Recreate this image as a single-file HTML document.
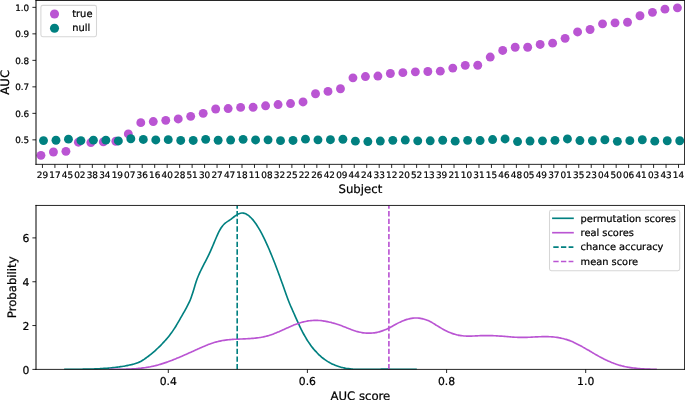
<!DOCTYPE html>
<html lang="en"><head><meta charset="utf-8"><title>AUC per subject and permutation distribution</title>
<style>html,body{margin:0;padding:0;background:#fff;}body{width:685px;height:400px;overflow:hidden;}svg{display:block;will-change:transform;opacity:0.999;}text{font-family:"DejaVu Sans","Liberation Sans",sans-serif;fill:#000;text-rendering:geometricPrecision;stroke:#000;stroke-width:0.22px;stroke-linejoin:round;}</style>
</head><body>
<svg width="685" height="400" viewBox="0 0 685 400">
<rect x="0" y="0" width="685" height="400" fill="#fff"/>
<g id="ax1">
<g fill="#ba55d3">
<circle cx="40.95" cy="155.35" r="4.45"/>
<circle cx="53.43" cy="152.00" r="4.45"/>
<circle cx="65.91" cy="151.35" r="4.45"/>
<circle cx="78.39" cy="142.20" r="4.45"/>
<circle cx="90.87" cy="142.55" r="4.45"/>
<circle cx="103.35" cy="141.90" r="4.45"/>
<circle cx="115.83" cy="141.25" r="4.45"/>
<circle cx="128.31" cy="133.95" r="4.45"/>
<circle cx="140.79" cy="122.65" r="4.45"/>
<circle cx="153.27" cy="121.55" r="4.45"/>
<circle cx="165.75" cy="120.35" r="4.45"/>
<circle cx="178.23" cy="118.95" r="4.45"/>
<circle cx="190.71" cy="116.35" r="4.45"/>
<circle cx="203.19" cy="113.35" r="4.45"/>
<circle cx="215.67" cy="109.00" r="4.45"/>
<circle cx="228.15" cy="108.55" r="4.45"/>
<circle cx="240.63" cy="107.40" r="4.45"/>
<circle cx="253.11" cy="107.25" r="4.45"/>
<circle cx="265.59" cy="105.80" r="4.45"/>
<circle cx="278.07" cy="104.55" r="4.45"/>
<circle cx="290.55" cy="103.55" r="4.45"/>
<circle cx="303.03" cy="101.95" r="4.45"/>
<circle cx="315.51" cy="93.75" r="4.45"/>
<circle cx="327.99" cy="91.40" r="4.45"/>
<circle cx="340.47" cy="88.75" r="4.45"/>
<circle cx="352.95" cy="77.85" r="4.45"/>
<circle cx="365.43" cy="76.55" r="4.45"/>
<circle cx="377.91" cy="76.05" r="4.45"/>
<circle cx="390.39" cy="73.50" r="4.45"/>
<circle cx="402.87" cy="72.65" r="4.45"/>
<circle cx="415.35" cy="71.85" r="4.45"/>
<circle cx="427.83" cy="71.50" r="4.45"/>
<circle cx="440.31" cy="71.15" r="4.45"/>
<circle cx="452.79" cy="68.10" r="4.45"/>
<circle cx="465.27" cy="65.35" r="4.45"/>
<circle cx="477.75" cy="65.25" r="4.45"/>
<circle cx="490.23" cy="57.05" r="4.45"/>
<circle cx="502.71" cy="50.45" r="4.45"/>
<circle cx="515.19" cy="47.25" r="4.45"/>
<circle cx="527.67" cy="47.25" r="4.45"/>
<circle cx="540.15" cy="44.45" r="4.45"/>
<circle cx="552.63" cy="43.15" r="4.45"/>
<circle cx="565.11" cy="38.35" r="4.45"/>
<circle cx="577.59" cy="31.95" r="4.45"/>
<circle cx="590.07" cy="29.50" r="4.45"/>
<circle cx="602.55" cy="23.85" r="4.45"/>
<circle cx="615.03" cy="22.85" r="4.45"/>
<circle cx="627.51" cy="22.25" r="4.45"/>
<circle cx="639.99" cy="15.75" r="4.45"/>
<circle cx="652.47" cy="12.35" r="4.45"/>
<circle cx="664.95" cy="9.15" r="4.45"/>
<circle cx="677.43" cy="7.85" r="4.45"/>
</g>
<g fill="#008080">
<circle cx="43.50" cy="140.60" r="4.45"/>
<circle cx="55.98" cy="140.25" r="4.45"/>
<circle cx="68.45" cy="139.15" r="4.45"/>
<circle cx="80.92" cy="140.60" r="4.45"/>
<circle cx="93.40" cy="140.15" r="4.45"/>
<circle cx="105.88" cy="140.15" r="4.45"/>
<circle cx="118.35" cy="140.95" r="4.45"/>
<circle cx="130.82" cy="138.75" r="4.45"/>
<circle cx="143.30" cy="139.45" r="4.45"/>
<circle cx="155.77" cy="139.95" r="4.45"/>
<circle cx="168.25" cy="139.65" r="4.45"/>
<circle cx="180.72" cy="140.45" r="4.45"/>
<circle cx="193.20" cy="140.45" r="4.45"/>
<circle cx="205.67" cy="139.35" r="4.45"/>
<circle cx="218.15" cy="140.25" r="4.45"/>
<circle cx="230.62" cy="140.05" r="4.45"/>
<circle cx="243.10" cy="139.35" r="4.45"/>
<circle cx="255.57" cy="139.95" r="4.45"/>
<circle cx="268.05" cy="139.85" r="4.45"/>
<circle cx="280.52" cy="140.65" r="4.45"/>
<circle cx="293.00" cy="140.45" r="4.45"/>
<circle cx="305.47" cy="139.15" r="4.45"/>
<circle cx="317.95" cy="139.85" r="4.45"/>
<circle cx="330.43" cy="139.70" r="4.45"/>
<circle cx="342.90" cy="139.25" r="4.45"/>
<circle cx="355.38" cy="141.15" r="4.45"/>
<circle cx="367.85" cy="141.55" r="4.45"/>
<circle cx="380.32" cy="141.05" r="4.45"/>
<circle cx="392.80" cy="140.35" r="4.45"/>
<circle cx="405.27" cy="140.05" r="4.45"/>
<circle cx="417.75" cy="140.85" r="4.45"/>
<circle cx="430.22" cy="140.80" r="4.45"/>
<circle cx="442.70" cy="140.25" r="4.45"/>
<circle cx="455.18" cy="141.15" r="4.45"/>
<circle cx="467.65" cy="140.35" r="4.45"/>
<circle cx="480.12" cy="140.55" r="4.45"/>
<circle cx="492.60" cy="139.55" r="4.45"/>
<circle cx="505.07" cy="138.95" r="4.45"/>
<circle cx="517.55" cy="141.55" r="4.45"/>
<circle cx="530.02" cy="141.05" r="4.45"/>
<circle cx="542.50" cy="140.85" r="4.45"/>
<circle cx="554.97" cy="140.35" r="4.45"/>
<circle cx="567.45" cy="138.95" r="4.45"/>
<circle cx="579.92" cy="140.55" r="4.45"/>
<circle cx="592.40" cy="140.75" r="4.45"/>
<circle cx="604.88" cy="139.75" r="4.45"/>
<circle cx="617.35" cy="141.35" r="4.45"/>
<circle cx="629.82" cy="140.65" r="4.45"/>
<circle cx="642.30" cy="139.75" r="4.45"/>
<circle cx="654.77" cy="141.15" r="4.45"/>
<circle cx="667.25" cy="140.75" r="4.45"/>
<circle cx="679.73" cy="140.75" r="4.45"/>
</g>
<g stroke="#000" stroke-width="0.85" fill="none">
<line x1="42.45" y1="164.35" x2="42.45" y2="167.95"/>
<line x1="54.92" y1="164.35" x2="54.92" y2="167.95"/>
<line x1="67.39" y1="164.35" x2="67.39" y2="167.95"/>
<line x1="79.87" y1="164.35" x2="79.87" y2="167.95"/>
<line x1="92.34" y1="164.35" x2="92.34" y2="167.95"/>
<line x1="104.81" y1="164.35" x2="104.81" y2="167.95"/>
<line x1="117.28" y1="164.35" x2="117.28" y2="167.95"/>
<line x1="129.75" y1="164.35" x2="129.75" y2="167.95"/>
<line x1="142.23" y1="164.35" x2="142.23" y2="167.95"/>
<line x1="154.70" y1="164.35" x2="154.70" y2="167.95"/>
<line x1="167.17" y1="164.35" x2="167.17" y2="167.95"/>
<line x1="179.64" y1="164.35" x2="179.64" y2="167.95"/>
<line x1="192.11" y1="164.35" x2="192.11" y2="167.95"/>
<line x1="204.59" y1="164.35" x2="204.59" y2="167.95"/>
<line x1="217.06" y1="164.35" x2="217.06" y2="167.95"/>
<line x1="229.53" y1="164.35" x2="229.53" y2="167.95"/>
<line x1="242.00" y1="164.35" x2="242.00" y2="167.95"/>
<line x1="254.47" y1="164.35" x2="254.47" y2="167.95"/>
<line x1="266.95" y1="164.35" x2="266.95" y2="167.95"/>
<line x1="279.42" y1="164.35" x2="279.42" y2="167.95"/>
<line x1="291.89" y1="164.35" x2="291.89" y2="167.95"/>
<line x1="304.36" y1="164.35" x2="304.36" y2="167.95"/>
<line x1="316.83" y1="164.35" x2="316.83" y2="167.95"/>
<line x1="329.31" y1="164.35" x2="329.31" y2="167.95"/>
<line x1="341.78" y1="164.35" x2="341.78" y2="167.95"/>
<line x1="354.25" y1="164.35" x2="354.25" y2="167.95"/>
<line x1="366.72" y1="164.35" x2="366.72" y2="167.95"/>
<line x1="379.19" y1="164.35" x2="379.19" y2="167.95"/>
<line x1="391.67" y1="164.35" x2="391.67" y2="167.95"/>
<line x1="404.14" y1="164.35" x2="404.14" y2="167.95"/>
<line x1="416.61" y1="164.35" x2="416.61" y2="167.95"/>
<line x1="429.08" y1="164.35" x2="429.08" y2="167.95"/>
<line x1="441.55" y1="164.35" x2="441.55" y2="167.95"/>
<line x1="454.03" y1="164.35" x2="454.03" y2="167.95"/>
<line x1="466.50" y1="164.35" x2="466.50" y2="167.95"/>
<line x1="478.97" y1="164.35" x2="478.97" y2="167.95"/>
<line x1="491.44" y1="164.35" x2="491.44" y2="167.95"/>
<line x1="503.91" y1="164.35" x2="503.91" y2="167.95"/>
<line x1="516.39" y1="164.35" x2="516.39" y2="167.95"/>
<line x1="528.86" y1="164.35" x2="528.86" y2="167.95"/>
<line x1="541.33" y1="164.35" x2="541.33" y2="167.95"/>
<line x1="553.80" y1="164.35" x2="553.80" y2="167.95"/>
<line x1="566.27" y1="164.35" x2="566.27" y2="167.95"/>
<line x1="578.75" y1="164.35" x2="578.75" y2="167.95"/>
<line x1="591.22" y1="164.35" x2="591.22" y2="167.95"/>
<line x1="603.69" y1="164.35" x2="603.69" y2="167.95"/>
<line x1="616.16" y1="164.35" x2="616.16" y2="167.95"/>
<line x1="628.63" y1="164.35" x2="628.63" y2="167.95"/>
<line x1="641.11" y1="164.35" x2="641.11" y2="167.95"/>
<line x1="653.58" y1="164.35" x2="653.58" y2="167.95"/>
<line x1="666.05" y1="164.35" x2="666.05" y2="167.95"/>
<line x1="678.52" y1="164.35" x2="678.52" y2="167.95"/>
<line x1="32.4" y1="139.85" x2="36.0" y2="139.85"/>
<line x1="32.4" y1="113.35" x2="36.0" y2="113.35"/>
<line x1="32.4" y1="86.85" x2="36.0" y2="86.85"/>
<line x1="32.4" y1="60.35" x2="36.0" y2="60.35"/>
<line x1="32.4" y1="33.85" x2="36.0" y2="33.85"/>
<line x1="32.4" y1="7.35" x2="36.0" y2="7.35"/>
<line x1="36.0" y1="0.0" x2="36.0" y2="164.85" stroke-width="1"/>
<line x1="684.5" y1="0.09999999999999998" x2="684.5" y2="164.75" stroke-width="0.8"/>
<line x1="35.5" y1="0.5" x2="684.9" y2="0.5"/>
<line x1="35.5" y1="164.35" x2="684.9" y2="164.35"/>
</g>
<g font-size="8.9px" text-anchor="middle">
<text x="42.45" y="177.9">29</text>
<text x="54.92" y="177.9">17</text>
<text x="67.39" y="177.9">45</text>
<text x="79.87" y="177.9">02</text>
<text x="92.34" y="177.9">38</text>
<text x="104.81" y="177.9">34</text>
<text x="117.28" y="177.9">19</text>
<text x="129.75" y="177.9">07</text>
<text x="142.23" y="177.9">36</text>
<text x="154.70" y="177.9">16</text>
<text x="167.17" y="177.9">40</text>
<text x="179.64" y="177.9">28</text>
<text x="192.11" y="177.9">51</text>
<text x="204.59" y="177.9">30</text>
<text x="217.06" y="177.9">27</text>
<text x="229.53" y="177.9">47</text>
<text x="242.00" y="177.9">18</text>
<text x="254.47" y="177.9">11</text>
<text x="266.95" y="177.9">08</text>
<text x="279.42" y="177.9">32</text>
<text x="291.89" y="177.9">25</text>
<text x="304.36" y="177.9">22</text>
<text x="316.83" y="177.9">26</text>
<text x="329.31" y="177.9">42</text>
<text x="341.78" y="177.9">09</text>
<text x="354.25" y="177.9">44</text>
<text x="366.72" y="177.9">24</text>
<text x="379.19" y="177.9">33</text>
<text x="391.67" y="177.9">12</text>
<text x="404.14" y="177.9">20</text>
<text x="416.61" y="177.9">52</text>
<text x="429.08" y="177.9">13</text>
<text x="441.55" y="177.9">39</text>
<text x="454.03" y="177.9">21</text>
<text x="466.50" y="177.9">10</text>
<text x="478.97" y="177.9">31</text>
<text x="491.44" y="177.9">15</text>
<text x="503.91" y="177.9">46</text>
<text x="516.39" y="177.9">48</text>
<text x="528.86" y="177.9">05</text>
<text x="541.33" y="177.9">49</text>
<text x="553.80" y="177.9">37</text>
<text x="566.27" y="177.9">01</text>
<text x="578.75" y="177.9">35</text>
<text x="591.22" y="177.9">23</text>
<text x="603.69" y="177.9">04</text>
<text x="616.16" y="177.9">50</text>
<text x="628.63" y="177.9">06</text>
<text x="641.11" y="177.9">41</text>
<text x="653.58" y="177.9">03</text>
<text x="666.05" y="177.9">43</text>
<text x="678.52" y="177.9">14</text>
</g>
<g font-size="8.8px" text-anchor="end">
<text x="29.2" y="143.10">0.5</text>
<text x="29.2" y="116.60">0.6</text>
<text x="29.2" y="90.10">0.7</text>
<text x="29.2" y="63.60">0.8</text>
<text x="29.2" y="37.10">0.9</text>
<text x="29.2" y="10.60">1.0</text>
</g>
<text x="360.4" y="192.8" font-size="11.7px" text-anchor="middle">Subject</text>
<text transform="translate(9.2,82.3) rotate(-90)" font-size="11.7px" text-anchor="middle">AUC</text>
<rect x="40.9" y="5.35" width="55.6" height="31.4" rx="1.9" ry="1.9" fill="#fff" fill-opacity="0.8" stroke="#ccc" stroke-opacity="0.8" stroke-width="1.05"/>
<circle cx="54.5" cy="13.95" r="4.55" fill="#ba55d3"/>
<circle cx="54.5" cy="28.2" r="4.55" fill="#008080"/>
<text x="72.2" y="16.55" font-size="9.9px">true</text>
<text x="72.2" y="30.5" font-size="9.9px">null</text>
</g>
<g id="ax2">
<clipPath id="c2"><rect x="36.0" y="205.45" width="648.5" height="163.95"/></clipPath>
<g clip-path="url(#c2)" fill="none" stroke-width="1.65" stroke-linejoin="round">
<path d="M65.00,369.40C65.25,369.40 66.00,369.40 66.50,369.40C67.00,369.40 67.50,369.40 68.00,369.40C68.50,369.39 69.00,369.38 69.50,369.37C70.00,369.36 70.50,369.36 71.00,369.35C71.50,369.34 72.00,369.34 72.50,369.33C73.00,369.32 73.50,369.32 74.00,369.31C74.50,369.30 75.00,369.30 75.50,369.29C76.00,369.29 76.50,369.28 77.00,369.27C77.50,369.27 78.00,369.26 78.50,369.26C79.00,369.25 79.50,369.24 80.00,369.24C80.50,369.23 81.00,369.22 81.50,369.22C82.00,369.21 82.50,369.20 83.00,369.19C83.50,369.19 84.00,369.18 84.50,369.17C85.00,369.16 85.50,369.15 86.00,369.14C86.50,369.13 87.00,369.12 87.50,369.11C88.00,369.10 88.50,369.09 89.00,369.08C89.50,369.07 90.00,369.05 90.50,369.04C91.00,369.03 91.50,369.01 92.00,369.00C92.50,368.98 93.00,368.97 93.50,368.95C94.00,368.93 94.50,368.91 95.00,368.90C95.50,368.88 96.00,368.86 96.50,368.84C97.00,368.82 97.50,368.79 98.00,368.77C98.50,368.75 99.00,368.72 99.50,368.70C100.00,368.67 100.50,368.65 101.00,368.62C101.50,368.59 102.00,368.56 102.50,368.53C103.00,368.50 103.50,368.47 104.00,368.43C104.50,368.40 105.00,368.36 105.50,368.33C106.00,368.29 106.50,368.25 107.00,368.21C107.50,368.17 108.00,368.13 108.50,368.09C109.00,368.05 109.50,368.00 110.00,367.95C110.50,367.91 111.00,367.86 111.50,367.81C112.00,367.76 112.50,367.71 113.00,367.65C113.50,367.60 114.00,367.54 114.50,367.48C115.00,367.43 115.50,367.37 116.00,367.30C116.50,367.24 117.00,367.18 117.50,367.11C118.00,367.04 118.50,366.98 119.00,366.91C119.50,366.83 120.00,366.76 120.50,366.69C121.00,366.61 121.50,366.53 122.00,366.45C122.50,366.37 123.00,366.29 123.50,366.20C124.00,366.12 124.50,366.03 125.00,365.94C125.50,365.85 126.00,365.76 126.50,365.66C127.00,365.57 127.50,365.47 128.00,365.37C128.50,365.27 129.00,365.16 129.50,365.06C130.00,364.95 130.50,364.84 131.00,364.73C131.50,364.62 132.00,364.50 132.50,364.37C133.00,364.25 133.50,364.12 134.00,363.98C134.50,363.84 135.00,363.69 135.50,363.53C136.00,363.37 136.50,363.20 137.00,363.02C137.50,362.83 138.00,362.64 138.50,362.42C139.00,362.21 139.50,361.98 140.00,361.74C140.50,361.49 141.00,361.22 141.50,360.94C142.00,360.66 142.50,360.37 143.00,360.06C143.50,359.75 144.00,359.42 144.50,359.08C145.00,358.75 145.50,358.40 146.00,358.04C146.50,357.68 147.00,357.31 147.50,356.93C148.00,356.55 148.50,356.16 149.00,355.77C149.50,355.38 150.00,354.97 150.50,354.57C151.00,354.16 151.50,353.75 152.00,353.34C152.50,352.92 153.00,352.50 153.50,352.07C154.00,351.64 154.50,351.20 155.00,350.76C155.50,350.31 156.00,349.86 156.50,349.41C157.00,348.95 157.50,348.48 158.00,348.01C158.50,347.53 159.00,347.05 159.50,346.56C160.00,346.07 160.50,345.57 161.00,345.06C161.50,344.55 162.00,344.03 162.50,343.50C163.00,342.98 163.50,342.44 164.00,341.89C164.50,341.34 165.00,340.78 165.50,340.21C166.00,339.64 166.50,339.06 167.00,338.47C167.50,337.87 168.00,337.27 168.50,336.65C169.00,336.03 169.50,335.40 170.00,334.75C170.50,334.10 171.00,333.43 171.50,332.75C172.00,332.06 172.50,331.36 173.00,330.63C173.50,329.90 174.00,329.15 174.50,328.37C175.00,327.60 175.50,326.80 176.00,325.97C176.50,325.15 177.00,324.30 177.50,323.45C178.00,322.59 178.50,321.72 179.00,320.84C179.50,319.97 180.00,319.08 180.50,318.20C181.00,317.31 181.50,316.43 182.00,315.55C182.50,314.68 183.00,313.81 183.50,312.94C184.00,312.06 184.50,311.20 185.00,310.30C185.50,309.41 186.00,308.51 186.50,307.58C187.00,306.64 187.50,305.70 188.00,304.70C188.50,303.69 189.00,302.68 189.50,301.55C190.00,300.42 190.50,299.25 191.00,297.92C191.50,296.60 192.00,295.13 192.50,293.59C193.00,292.06 193.50,290.33 194.00,288.69C194.50,287.05 195.00,285.32 195.50,283.75C196.00,282.18 196.50,280.67 197.00,279.30C197.50,277.92 198.00,276.70 198.50,275.51C199.00,274.32 199.50,273.24 200.00,272.16C200.50,271.09 201.00,270.06 201.50,269.05C202.00,268.04 202.50,267.07 203.00,266.10C203.50,265.13 204.00,264.18 204.50,263.23C205.00,262.27 205.50,261.33 206.00,260.36C206.50,259.40 207.00,258.44 207.50,257.44C208.00,256.44 208.50,255.44 209.00,254.39C209.50,253.33 210.00,252.25 210.50,251.13C211.00,250.01 211.50,248.84 212.00,247.67C212.50,246.50 213.00,245.30 213.50,244.11C214.00,242.92 214.50,241.71 215.00,240.53C215.50,239.35 216.00,238.17 216.50,237.03C217.00,235.90 217.50,234.78 218.00,233.72C218.50,232.67 219.00,231.64 219.50,230.69C220.00,229.75 220.50,228.85 221.00,228.05C221.50,227.25 222.00,226.53 222.50,225.89C223.00,225.26 223.50,224.72 224.00,224.22C224.50,223.72 225.00,223.30 225.50,222.90C226.00,222.50 226.50,222.16 227.00,221.82C227.50,221.48 228.00,221.18 228.50,220.86C229.00,220.53 229.50,220.23 230.00,219.88C230.50,219.54 231.00,219.18 231.50,218.80C232.00,218.43 232.50,218.03 233.00,217.64C233.50,217.25 234.00,216.84 234.50,216.47C235.00,216.09 235.50,215.70 236.00,215.36C236.50,215.02 237.00,214.68 237.50,214.40C238.00,214.11 238.50,213.85 239.00,213.65C239.50,213.45 240.00,213.29 240.50,213.19C241.00,213.08 241.50,213.03 242.00,213.03C242.50,213.02 243.00,213.07 243.50,213.16C244.00,213.25 244.50,213.39 245.00,213.57C245.50,213.75 246.00,213.98 246.50,214.25C247.00,214.51 247.50,214.83 248.00,215.18C248.50,215.53 249.00,215.92 249.50,216.36C250.00,216.79 250.50,217.26 251.00,217.76C251.50,218.27 252.00,218.82 252.50,219.39C253.00,219.97 253.50,220.59 254.00,221.23C254.50,221.88 255.00,222.56 255.50,223.27C256.00,223.98 256.50,224.72 257.00,225.49C257.50,226.26 258.00,227.07 258.50,227.90C259.00,228.72 259.50,229.58 260.00,230.47C260.50,231.35 261.00,232.27 261.50,233.20C262.00,234.14 262.50,235.10 263.00,236.09C263.50,237.08 264.00,238.09 264.50,239.13C265.00,240.16 265.50,241.22 266.00,242.30C266.50,243.38 267.00,244.49 267.50,245.61C268.00,246.73 268.50,247.87 269.00,249.04C269.50,250.20 270.00,251.38 270.50,252.58C271.00,253.78 271.50,254.99 272.00,256.23C272.50,257.46 273.00,258.71 273.50,259.97C274.00,261.24 274.50,262.52 275.00,263.81C275.50,265.10 276.00,266.41 276.50,267.73C277.00,269.05 277.50,270.38 278.00,271.73C278.50,273.07 279.00,274.42 279.50,275.79C280.00,277.15 280.50,278.53 281.00,279.91C281.50,281.29 282.00,282.69 282.50,284.08C283.00,285.48 283.50,286.89 284.00,288.30C284.50,289.71 285.00,291.14 285.50,292.55C286.00,293.97 286.50,295.42 287.00,296.79C287.50,298.17 288.00,299.53 288.50,300.82C289.00,302.10 289.50,303.31 290.00,304.50C290.50,305.69 291.00,306.82 291.50,307.95C292.00,309.09 292.50,310.20 293.00,311.32C293.50,312.44 294.00,313.57 294.50,314.69C295.00,315.81 295.50,316.94 296.00,318.05C296.50,319.17 297.00,320.28 297.50,321.38C298.00,322.48 298.50,323.57 299.00,324.64C299.50,325.72 300.00,326.78 300.50,327.81C301.00,328.84 301.50,329.86 302.00,330.85C302.50,331.84 303.00,332.80 303.50,333.74C304.00,334.67 304.50,335.57 305.00,336.45C305.50,337.32 306.00,338.17 306.50,338.99C307.00,339.81 307.50,340.60 308.00,341.36C308.50,342.13 309.00,342.87 309.50,343.59C310.00,344.31 310.50,345.00 311.00,345.68C311.50,346.35 312.00,347.00 312.50,347.63C313.00,348.26 313.50,348.87 314.00,349.46C314.50,350.05 315.00,350.62 315.50,351.17C316.00,351.72 316.50,352.26 317.00,352.78C317.50,353.30 318.00,353.80 318.50,354.29C319.00,354.77 319.50,355.24 320.00,355.70C320.50,356.15 321.00,356.59 321.50,357.01C322.00,357.44 322.50,357.84 323.00,358.24C323.50,358.63 324.00,359.01 324.50,359.38C325.00,359.74 325.50,360.09 326.00,360.43C326.50,360.77 327.00,361.09 327.50,361.41C328.00,361.72 328.50,362.02 329.00,362.31C329.50,362.59 330.00,362.87 330.50,363.13C331.00,363.40 331.50,363.65 332.00,363.89C332.50,364.13 333.00,364.36 333.50,364.58C334.00,364.80 334.50,365.01 335.00,365.21C335.50,365.41 336.00,365.60 336.50,365.78C337.00,365.97 337.50,366.14 338.00,366.30C338.50,366.47 339.00,366.62 339.50,366.77C340.00,366.91 340.50,367.05 341.00,367.19C341.50,367.32 342.00,367.44 342.50,367.56C343.00,367.68 343.50,367.79 344.00,367.89C344.50,368.00 345.00,368.10 345.50,368.19C346.00,368.28 346.50,368.37 347.00,368.45C347.50,368.53 348.00,368.61 348.50,368.68C349.00,368.75 349.50,368.82 350.00,368.88C350.50,368.94 351.00,369.00 351.50,369.05C352.00,369.11 352.50,369.15 353.00,369.20C353.50,369.24 354.00,369.28 354.50,369.32C355.00,369.35 355.50,369.39 356.00,369.40C356.50,369.41 357.00,369.40 357.50,369.40C358.00,369.40 358.50,369.40 359.00,369.40C359.50,369.40 360.00,369.40 360.50,369.40C361.00,369.40 361.50,369.40 362.00,369.40C362.50,369.40 363.00,369.40 363.50,369.40C364.00,369.40 364.50,369.40 365.00,369.40C365.50,369.40 366.00,369.40 366.50,369.40C367.00,369.40 367.50,369.40 368.00,369.40C368.50,369.40 369.00,369.40 369.50,369.40C370.00,369.40 370.50,369.40 371.00,369.40C371.50,369.40 372.00,369.40 372.50,369.40C373.00,369.40 373.50,369.41 374.00,369.40C374.50,369.39 375.00,369.37 375.50,369.35C376.00,369.34 376.50,369.32 377.00,369.31C377.50,369.29 378.00,369.28 378.50,369.26C379.00,369.25 379.50,369.24 380.00,369.23C380.50,369.21 381.00,369.20 381.50,369.19C382.00,369.19 382.50,369.18 383.00,369.17C383.50,369.16 384.00,369.16 384.50,369.16C385.00,369.15 385.50,369.15 386.00,369.16C386.50,369.16 387.00,369.16 387.50,369.16C388.00,369.17 388.50,369.18 389.00,369.18C389.50,369.19 390.00,369.20 390.50,369.21C391.00,369.22 391.50,369.23 392.00,369.24C392.50,369.26 393.00,369.27 393.50,369.28C394.00,369.30 394.50,369.31 395.00,369.32C395.50,369.34 396.00,369.36 396.50,369.37C397.00,369.38 397.50,369.39 398.00,369.40C398.50,369.41 399.00,369.40 399.50,369.40C400.00,369.40 400.50,369.40 401.00,369.40C401.50,369.40 402.00,369.40 402.50,369.40C403.00,369.40 403.50,369.40 404.00,369.40C404.50,369.40 405.00,369.40 405.50,369.40C406.00,369.40 406.50,369.40 407.00,369.40C407.50,369.40 408.00,369.40 408.50,369.40C409.00,369.40 409.50,369.40 410.00,369.40C410.50,369.40 411.00,369.40 411.50,369.40C412.00,369.40 412.50,369.40 413.00,369.40C413.50,369.40 414.00,369.40 414.50,369.40C415.00,369.40 415.75,369.40 416.00,369.40" stroke="#008080" stroke-linecap="square"/>
<path d="M110.00,369.40C110.25,369.40 111.00,369.40 111.50,369.40C112.00,369.40 112.50,369.40 113.00,369.40C113.50,369.40 114.00,369.40 114.50,369.39C115.00,369.39 115.50,369.38 116.00,369.38C116.50,369.38 117.00,369.37 117.50,369.37C118.00,369.36 118.50,369.35 119.00,369.35C119.50,369.34 120.00,369.33 120.50,369.33C121.00,369.32 121.50,369.31 122.00,369.30C122.50,369.29 123.00,369.28 123.50,369.27C124.00,369.25 124.50,369.24 125.00,369.23C125.50,369.21 126.00,369.20 126.50,369.18C127.00,369.16 127.50,369.15 128.00,369.13C128.50,369.11 129.00,369.08 129.50,369.06C130.00,369.04 130.50,369.01 131.00,368.99C131.50,368.96 132.00,368.93 132.50,368.90C133.00,368.87 133.50,368.84 134.00,368.81C134.50,368.77 135.00,368.74 135.50,368.70C136.00,368.66 136.50,368.62 137.00,368.58C137.50,368.53 138.00,368.49 138.50,368.44C139.00,368.39 139.50,368.34 140.00,368.29C140.50,368.23 141.00,368.18 141.50,368.12C142.00,368.06 142.50,368.00 143.00,367.93C143.50,367.87 144.00,367.80 144.50,367.73C145.00,367.66 145.50,367.59 146.00,367.51C146.50,367.43 147.00,367.35 147.50,367.27C148.00,367.18 148.50,367.10 149.00,367.01C149.50,366.92 150.00,366.82 150.50,366.72C151.00,366.63 151.50,366.52 152.00,366.42C152.50,366.31 153.00,366.20 153.50,366.09C154.00,365.98 154.50,365.86 155.00,365.74C155.50,365.62 156.00,365.49 156.50,365.36C157.00,365.23 157.50,365.10 158.00,364.96C158.50,364.83 159.00,364.69 159.50,364.54C160.00,364.40 160.50,364.25 161.00,364.10C161.50,363.95 162.00,363.79 162.50,363.63C163.00,363.47 163.50,363.31 164.00,363.15C164.50,362.98 165.00,362.81 165.50,362.64C166.00,362.47 166.50,362.30 167.00,362.12C167.50,361.94 168.00,361.77 168.50,361.58C169.00,361.40 169.50,361.22 170.00,361.03C170.50,360.84 171.00,360.65 171.50,360.46C172.00,360.27 172.50,360.07 173.00,359.88C173.50,359.68 174.00,359.48 174.50,359.28C175.00,359.08 175.50,358.88 176.00,358.67C176.50,358.47 177.00,358.26 177.50,358.05C178.00,357.85 178.50,357.64 179.00,357.42C179.50,357.21 180.00,357.00 180.50,356.79C181.00,356.57 181.50,356.36 182.00,356.14C182.50,355.92 183.00,355.71 183.50,355.49C184.00,355.27 184.50,355.05 185.00,354.83C185.50,354.61 186.00,354.38 186.50,354.16C187.00,353.94 187.50,353.72 188.00,353.49C188.50,353.27 189.00,353.05 189.50,352.82C190.00,352.60 190.50,352.37 191.00,352.15C191.50,351.92 192.00,351.70 192.50,351.47C193.00,351.25 193.50,351.02 194.00,350.80C194.50,350.57 195.00,350.35 195.50,350.12C196.00,349.90 196.50,349.67 197.00,349.45C197.50,349.23 198.00,349.00 198.50,348.78C199.00,348.56 199.50,348.33 200.00,348.11C200.50,347.89 201.00,347.67 201.50,347.45C202.00,347.23 202.50,347.01 203.00,346.80C203.50,346.58 204.00,346.37 204.50,346.16C205.00,345.94 205.50,345.74 206.00,345.53C206.50,345.32 207.00,345.12 207.50,344.92C208.00,344.72 208.50,344.53 209.00,344.34C209.50,344.14 210.00,343.96 210.50,343.77C211.00,343.59 211.50,343.41 212.00,343.24C212.50,343.07 213.00,342.90 213.50,342.74C214.00,342.58 214.50,342.43 215.00,342.28C215.50,342.13 216.00,341.99 216.50,341.86C217.00,341.72 217.50,341.59 218.00,341.47C218.50,341.35 219.00,341.24 219.50,341.13C220.00,341.02 220.50,340.92 221.00,340.82C221.50,340.73 222.00,340.64 222.50,340.55C223.00,340.46 223.50,340.38 224.00,340.31C224.50,340.23 225.00,340.16 225.50,340.10C226.00,340.03 226.50,339.97 227.00,339.91C227.50,339.85 228.00,339.80 228.50,339.75C229.00,339.70 229.50,339.65 230.00,339.61C230.50,339.57 231.00,339.53 231.50,339.49C232.00,339.45 232.50,339.42 233.00,339.38C233.50,339.35 234.00,339.32 234.50,339.29C235.00,339.26 235.50,339.24 236.00,339.21C236.50,339.19 237.00,339.16 237.50,339.14C238.00,339.12 238.50,339.10 239.00,339.08C239.50,339.05 240.00,339.03 240.50,339.01C241.00,338.99 241.50,338.97 242.00,338.95C242.50,338.94 243.00,338.92 243.50,338.89C244.00,338.87 244.50,338.85 245.00,338.83C245.50,338.81 246.00,338.79 246.50,338.76C247.00,338.74 247.50,338.71 248.00,338.69C248.50,338.66 249.00,338.63 249.50,338.60C250.00,338.57 250.50,338.54 251.00,338.50C251.50,338.46 252.00,338.43 252.50,338.39C253.00,338.34 253.50,338.30 254.00,338.25C254.50,338.21 255.00,338.16 255.50,338.10C256.00,338.05 256.50,337.99 257.00,337.93C257.50,337.87 258.00,337.80 258.50,337.73C259.00,337.66 259.50,337.59 260.00,337.51C260.50,337.43 261.00,337.34 261.50,337.25C262.00,337.16 262.50,337.07 263.00,336.97C263.50,336.87 264.00,336.76 264.50,336.65C265.00,336.54 265.50,336.42 266.00,336.29C266.50,336.17 267.00,336.04 267.50,335.90C268.00,335.76 268.50,335.62 269.00,335.46C269.50,335.31 270.00,335.15 270.50,334.99C271.00,334.82 271.50,334.65 272.00,334.47C272.50,334.29 273.00,334.11 273.50,333.92C274.00,333.73 274.50,333.54 275.00,333.34C275.50,333.14 276.00,332.94 276.50,332.73C277.00,332.53 277.50,332.32 278.00,332.10C278.50,331.89 279.00,331.67 279.50,331.45C280.00,331.24 280.50,331.01 281.00,330.79C281.50,330.57 282.00,330.34 282.50,330.12C283.00,329.89 283.50,329.67 284.00,329.44C284.50,329.21 285.00,328.98 285.50,328.76C286.00,328.53 286.50,328.30 287.00,328.08C287.50,327.85 288.00,327.62 288.50,327.40C289.00,327.18 289.50,326.95 290.00,326.73C290.50,326.52 291.00,326.30 291.50,326.08C292.00,325.87 292.50,325.66 293.00,325.45C293.50,325.24 294.00,325.04 294.50,324.84C295.00,324.64 295.50,324.44 296.00,324.25C296.50,324.06 297.00,323.87 297.50,323.69C298.00,323.51 298.50,323.33 299.00,323.17C299.50,323.00 300.00,322.84 300.50,322.68C301.00,322.52 301.50,322.38 302.00,322.24C302.50,322.09 303.00,321.96 303.50,321.84C304.00,321.71 304.50,321.59 305.00,321.49C305.50,321.38 306.00,321.28 306.50,321.19C307.00,321.09 307.50,321.01 308.00,320.93C308.50,320.86 309.00,320.79 309.50,320.73C310.00,320.67 310.50,320.62 311.00,320.57C311.50,320.53 312.00,320.49 312.50,320.46C313.00,320.43 313.50,320.41 314.00,320.40C314.50,320.38 315.00,320.37 315.50,320.37C316.00,320.37 316.50,320.38 317.00,320.39C317.50,320.40 318.00,320.43 318.50,320.45C319.00,320.48 319.50,320.51 320.00,320.55C320.50,320.59 321.00,320.64 321.50,320.69C322.00,320.75 322.50,320.80 323.00,320.87C323.50,320.94 324.00,321.01 324.50,321.09C325.00,321.16 325.50,321.25 326.00,321.34C326.50,321.43 327.00,321.52 327.50,321.62C328.00,321.72 328.50,321.83 329.00,321.94C329.50,322.05 330.00,322.17 330.50,322.29C331.00,322.42 331.50,322.54 332.00,322.68C332.50,322.81 333.00,322.95 333.50,323.09C334.00,323.23 334.50,323.38 335.00,323.54C335.50,323.69 336.00,323.85 336.50,324.01C337.00,324.17 337.50,324.34 338.00,324.51C338.50,324.68 339.00,324.85 339.50,325.03C340.00,325.21 340.50,325.40 341.00,325.58C341.50,325.77 342.00,325.96 342.50,326.16C343.00,326.35 343.50,326.55 344.00,326.74C344.50,326.94 345.00,327.14 345.50,327.34C346.00,327.53 346.50,327.73 347.00,327.93C347.50,328.13 348.00,328.33 348.50,328.52C349.00,328.72 349.50,328.91 350.00,329.10C350.50,329.29 351.00,329.48 351.50,329.67C352.00,329.85 352.50,330.03 353.00,330.20C353.50,330.38 354.00,330.55 354.50,330.71C355.00,330.87 355.50,331.03 356.00,331.18C356.50,331.33 357.00,331.47 357.50,331.61C358.00,331.74 358.50,331.87 359.00,331.99C359.50,332.10 360.00,332.21 360.50,332.31C361.00,332.41 361.50,332.51 362.00,332.59C362.50,332.67 363.00,332.75 363.50,332.81C364.00,332.88 364.50,332.93 365.00,332.98C365.50,333.03 366.00,333.07 366.50,333.10C367.00,333.13 367.50,333.15 368.00,333.16C368.50,333.17 369.00,333.17 369.50,333.16C370.00,333.16 370.50,333.14 371.00,333.11C371.50,333.09 372.00,333.05 372.50,333.01C373.00,332.96 373.50,332.91 374.00,332.84C374.50,332.78 375.00,332.70 375.50,332.62C376.00,332.54 376.50,332.44 377.00,332.34C377.50,332.24 378.00,332.12 378.50,332.00C379.00,331.88 379.50,331.75 380.00,331.60C380.50,331.46 381.00,331.31 381.50,331.15C382.00,330.99 382.50,330.82 383.00,330.64C383.50,330.46 384.00,330.27 384.50,330.07C385.00,329.87 385.50,329.66 386.00,329.45C386.50,329.23 387.00,329.00 387.50,328.77C388.00,328.53 388.50,328.29 389.00,328.03C389.50,327.78 390.00,327.52 390.50,327.25C391.00,326.98 391.50,326.71 392.00,326.43C392.50,326.15 393.00,325.87 393.50,325.59C394.00,325.31 394.50,325.03 395.00,324.75C395.50,324.48 396.00,324.20 396.50,323.93C397.00,323.66 397.50,323.39 398.00,323.13C398.50,322.88 399.00,322.63 399.50,322.38C400.00,322.14 400.50,321.91 401.00,321.68C401.50,321.46 402.00,321.24 402.50,321.03C403.00,320.82 403.50,320.62 404.00,320.43C404.50,320.24 405.00,320.06 405.50,319.89C406.00,319.72 406.50,319.56 407.00,319.41C407.50,319.26 408.00,319.12 408.50,319.00C409.00,318.87 409.50,318.75 410.00,318.65C410.50,318.55 411.00,318.45 411.50,318.37C412.00,318.29 412.50,318.23 413.00,318.17C413.50,318.12 414.00,318.07 414.50,318.05C415.00,318.02 415.50,318.00 416.00,318.00C416.50,318.00 417.00,318.02 417.50,318.04C418.00,318.07 418.50,318.11 419.00,318.16C419.50,318.22 420.00,318.28 420.50,318.36C421.00,318.45 421.50,318.54 422.00,318.65C422.50,318.76 423.00,318.88 423.50,319.02C424.00,319.15 424.50,319.30 425.00,319.46C425.50,319.63 426.00,319.80 426.50,319.99C427.00,320.18 427.50,320.39 428.00,320.60C428.50,320.82 429.00,321.05 429.50,321.29C430.00,321.54 430.50,321.80 431.00,322.06C431.50,322.33 432.00,322.61 432.50,322.89C433.00,323.18 433.50,323.47 434.00,323.77C434.50,324.07 435.00,324.37 435.50,324.68C436.00,324.98 436.50,325.29 437.00,325.60C437.50,325.91 438.00,326.22 438.50,326.53C439.00,326.83 439.50,327.14 440.00,327.44C440.50,327.74 441.00,328.04 441.50,328.34C442.00,328.63 442.50,328.92 443.00,329.20C443.50,329.48 444.00,329.76 444.50,330.03C445.00,330.30 445.50,330.56 446.00,330.81C446.50,331.06 447.00,331.31 447.50,331.54C448.00,331.77 448.50,332.00 449.00,332.21C449.50,332.42 450.00,332.63 450.50,332.82C451.00,333.02 451.50,333.20 452.00,333.38C452.50,333.56 453.00,333.72 453.50,333.88C454.00,334.04 454.50,334.19 455.00,334.33C455.50,334.47 456.00,334.60 456.50,334.73C457.00,334.85 457.50,334.96 458.00,335.07C458.50,335.18 459.00,335.27 459.50,335.36C460.00,335.45 460.50,335.53 461.00,335.61C461.50,335.68 462.00,335.74 462.50,335.80C463.00,335.86 463.50,335.91 464.00,335.95C464.50,335.99 465.00,336.02 465.50,336.05C466.00,336.08 466.50,336.09 467.00,336.11C467.50,336.12 468.00,336.13 468.50,336.13C469.00,336.14 469.50,336.13 470.00,336.13C470.50,336.12 471.00,336.11 471.50,336.09C472.00,336.08 472.50,336.06 473.00,336.04C473.50,336.02 474.00,336.00 474.50,335.98C475.00,335.95 475.50,335.93 476.00,335.90C476.50,335.88 477.00,335.85 477.50,335.82C478.00,335.80 478.50,335.77 479.00,335.75C479.50,335.72 480.00,335.70 480.50,335.68C481.00,335.66 481.50,335.64 482.00,335.63C482.50,335.61 483.00,335.60 483.50,335.59C484.00,335.58 484.50,335.57 485.00,335.56C485.50,335.56 486.00,335.56 486.50,335.56C487.00,335.56 487.50,335.56 488.00,335.56C488.50,335.57 489.00,335.58 489.50,335.59C490.00,335.60 490.50,335.61 491.00,335.62C491.50,335.64 492.00,335.65 492.50,335.67C493.00,335.69 493.50,335.71 494.00,335.73C494.50,335.75 495.00,335.78 495.50,335.80C496.00,335.83 496.50,335.85 497.00,335.88C497.50,335.91 498.00,335.94 498.50,335.98C499.00,336.01 499.50,336.04 500.00,336.08C500.50,336.11 501.00,336.15 501.50,336.19C502.00,336.22 502.50,336.26 503.00,336.30C503.50,336.34 504.00,336.38 504.50,336.43C505.00,336.47 505.50,336.51 506.00,336.55C506.50,336.59 507.00,336.63 507.50,336.67C508.00,336.72 508.50,336.76 509.00,336.80C509.50,336.84 510.00,336.88 510.50,336.91C511.00,336.95 511.50,336.99 512.00,337.03C512.50,337.06 513.00,337.10 513.50,337.13C514.00,337.16 514.50,337.19 515.00,337.22C515.50,337.25 516.00,337.28 516.50,337.30C517.00,337.32 517.50,337.34 518.00,337.36C518.50,337.38 519.00,337.39 519.50,337.41C520.00,337.42 520.50,337.43 521.00,337.43C521.50,337.44 522.00,337.44 522.50,337.43C523.00,337.43 523.50,337.43 524.00,337.42C524.50,337.41 525.00,337.40 525.50,337.38C526.00,337.37 526.50,337.35 527.00,337.33C527.50,337.31 528.00,337.29 528.50,337.27C529.00,337.25 529.50,337.22 530.00,337.20C530.50,337.18 531.00,337.15 531.50,337.12C532.00,337.10 532.50,337.07 533.00,337.05C533.50,337.02 534.00,337.00 534.50,336.97C535.00,336.95 535.50,336.92 536.00,336.90C536.50,336.88 537.00,336.85 537.50,336.83C538.00,336.81 538.50,336.79 539.00,336.77C539.50,336.75 540.00,336.73 540.50,336.72C541.00,336.70 541.50,336.69 542.00,336.68C542.50,336.67 543.00,336.66 543.50,336.65C544.00,336.65 544.50,336.64 545.00,336.64C545.50,336.64 546.00,336.65 546.50,336.65C547.00,336.66 547.50,336.67 548.00,336.68C548.50,336.69 549.00,336.71 549.50,336.73C550.00,336.75 550.50,336.77 551.00,336.80C551.50,336.83 552.00,336.87 552.50,336.90C553.00,336.94 553.50,336.99 554.00,337.04C554.50,337.08 555.00,337.14 555.50,337.20C556.00,337.26 556.50,337.32 557.00,337.39C557.50,337.46 558.00,337.54 558.50,337.62C559.00,337.70 559.50,337.79 560.00,337.89C560.50,337.98 561.00,338.08 561.50,338.19C562.00,338.30 562.50,338.42 563.00,338.54C563.50,338.67 564.00,338.80 564.50,338.93C565.00,339.07 565.50,339.22 566.00,339.37C566.50,339.53 567.00,339.69 567.50,339.86C568.00,340.03 568.50,340.21 569.00,340.39C569.50,340.58 570.00,340.77 570.50,340.98C571.00,341.18 571.50,341.38 572.00,341.60C572.50,341.81 573.00,342.03 573.50,342.26C574.00,342.49 574.50,342.72 575.00,342.96C575.50,343.20 576.00,343.44 576.50,343.69C577.00,343.94 577.50,344.19 578.00,344.45C578.50,344.71 579.00,344.97 579.50,345.24C580.00,345.51 580.50,345.78 581.00,346.05C581.50,346.32 582.00,346.60 582.50,346.88C583.00,347.16 583.50,347.44 584.00,347.73C584.50,348.01 585.00,348.30 585.50,348.59C586.00,348.88 586.50,349.17 587.00,349.46C587.50,349.75 588.00,350.04 588.50,350.33C589.00,350.63 589.50,350.92 590.00,351.21C590.50,351.51 591.00,351.80 591.50,352.09C592.00,352.39 592.50,352.68 593.00,352.97C593.50,353.26 594.00,353.55 594.50,353.84C595.00,354.13 595.50,354.42 596.00,354.71C596.50,354.99 597.00,355.27 597.50,355.55C598.00,355.84 598.50,356.11 599.00,356.39C599.50,356.66 600.00,356.93 600.50,357.20C601.00,357.47 601.50,357.73 602.00,357.99C602.50,358.26 603.00,358.51 603.50,358.76C604.00,359.02 604.50,359.27 605.00,359.51C605.50,359.75 606.00,359.99 606.50,360.23C607.00,360.47 607.50,360.70 608.00,360.92C608.50,361.15 609.00,361.37 609.50,361.59C610.00,361.81 610.50,362.02 611.00,362.23C611.50,362.43 612.00,362.64 612.50,362.83C613.00,363.03 613.50,363.22 614.00,363.41C614.50,363.59 615.00,363.78 615.50,363.95C616.00,364.13 616.50,364.30 617.00,364.46C617.50,364.62 618.00,364.78 618.50,364.93C619.00,365.09 619.50,365.23 620.00,365.37C620.50,365.51 621.00,365.65 621.50,365.78C622.00,365.91 622.50,366.03 623.00,366.15C623.50,366.27 624.00,366.39 624.50,366.50C625.00,366.61 625.50,366.71 626.00,366.81C626.50,366.92 627.00,367.01 627.50,367.10C628.00,367.20 628.50,367.28 629.00,367.37C629.50,367.45 630.00,367.53 630.50,367.61C631.00,367.68 631.50,367.75 632.00,367.82C632.50,367.89 633.00,367.96 633.50,368.02C634.00,368.08 634.50,368.14 635.00,368.19C635.50,368.25 636.00,368.30 636.50,368.35C637.00,368.40 637.50,368.45 638.00,368.49C638.50,368.54 639.00,368.58 639.50,368.62C640.00,368.66 640.50,368.70 641.00,368.73C641.50,368.77 642.00,368.80 642.50,368.83C643.00,368.86 643.50,368.89 644.00,368.92C644.50,368.95 645.00,368.97 645.50,369.00C646.00,369.02 646.50,369.05 647.00,369.07C647.50,369.09 648.00,369.11 648.50,369.13C649.00,369.15 649.50,369.17 650.00,369.19C650.50,369.21 651.00,369.22 651.50,369.24C652.00,369.26 652.50,369.27 653.00,369.29C653.50,369.31 654.00,369.32 654.50,369.34C655.00,369.36 655.75,369.38 656.00,369.39" stroke="#ba55d3" stroke-linecap="square"/>
<line x1="237.2" y1="369.4" x2="237.2" y2="205.45" stroke="#008080" stroke-dasharray="5.35 2.3"/>
<line x1="388.9" y1="369.4" x2="388.9" y2="205.45" stroke="#ba55d3" stroke-dasharray="5.35 2.3"/>
</g>
<g stroke="#000" stroke-width="0.85" fill="none">
<line x1="168.3" y1="369.4" x2="168.3" y2="373.0"/>
<line x1="307.4" y1="369.4" x2="307.4" y2="373.0"/>
<line x1="446.6" y1="369.4" x2="446.6" y2="373.0"/>
<line x1="585.7" y1="369.4" x2="585.7" y2="373.0"/>
<line x1="32.4" y1="369.4" x2="36.0" y2="369.4"/>
<line x1="32.4" y1="325.55" x2="36.0" y2="325.55"/>
<line x1="32.4" y1="281.75" x2="36.0" y2="281.75"/>
<line x1="32.4" y1="237.9" x2="36.0" y2="237.9"/>
<line x1="36.0" y1="204.95" x2="36.0" y2="369.9" stroke-width="1"/>
<line x1="684.5" y1="205.04999999999998" x2="684.5" y2="369.79999999999995" stroke-width="0.8"/>
<line x1="35.5" y1="205.45" x2="684.9" y2="205.45"/>
<line x1="35.5" y1="369.4" x2="684.9" y2="369.4"/>
</g>
<g font-size="10.8px" text-anchor="middle">
<text x="168.3" y="384.8">0.4</text>
<text x="307.4" y="384.8">0.6</text>
<text x="446.6" y="384.8">0.8</text>
<text x="585.7" y="384.8">1.0</text>
</g>
<g font-size="10.8px" text-anchor="end">
<text x="29.25" y="374.15">0</text>
<text x="29.25" y="329.50">2</text>
<text x="29.25" y="285.80">4</text>
<text x="29.25" y="241.60">6</text>
</g>
<text x="360.4" y="399.5" font-size="11.7px" text-anchor="middle">AUC score</text>
<text transform="translate(15.6,287.3) rotate(-90)" font-size="11.7px" text-anchor="middle">Probability</text>
<rect x="549.5" y="210.25" width="130.2" height="60.45" rx="1.9" ry="1.9" fill="#fff" fill-opacity="0.8" stroke="#ccc" stroke-opacity="0.8" stroke-width="1.05"/>
<line x1="552.1" x2="573.8" y1="218.29999999999998" y2="218.29999999999998" stroke="#008080" stroke-width="1.65"/>
<line x1="552.1" x2="573.8" y1="232.70000000000002" y2="232.70000000000002" stroke="#ba55d3" stroke-width="1.65"/>
<line x1="553.3" x2="573.4" y1="247.15" y2="247.15" stroke="#008080" stroke-width="1.65" stroke-dasharray="5.35 2.3"/>
<line x1="553.3" x2="573.4" y1="261.5" y2="261.5" stroke="#ba55d3" stroke-width="1.65" stroke-dasharray="5.35 2.3"/>
<g font-size="9.84px">
<text x="580.6" y="221.75">permutation scores</text>
<text x="580.6" y="236.10">real scores</text>
<text x="580.6" y="250.45">chance accuracy</text>
<text x="580.6" y="264.80">mean score</text>
</g>
</g>
</svg>
</body></html>
